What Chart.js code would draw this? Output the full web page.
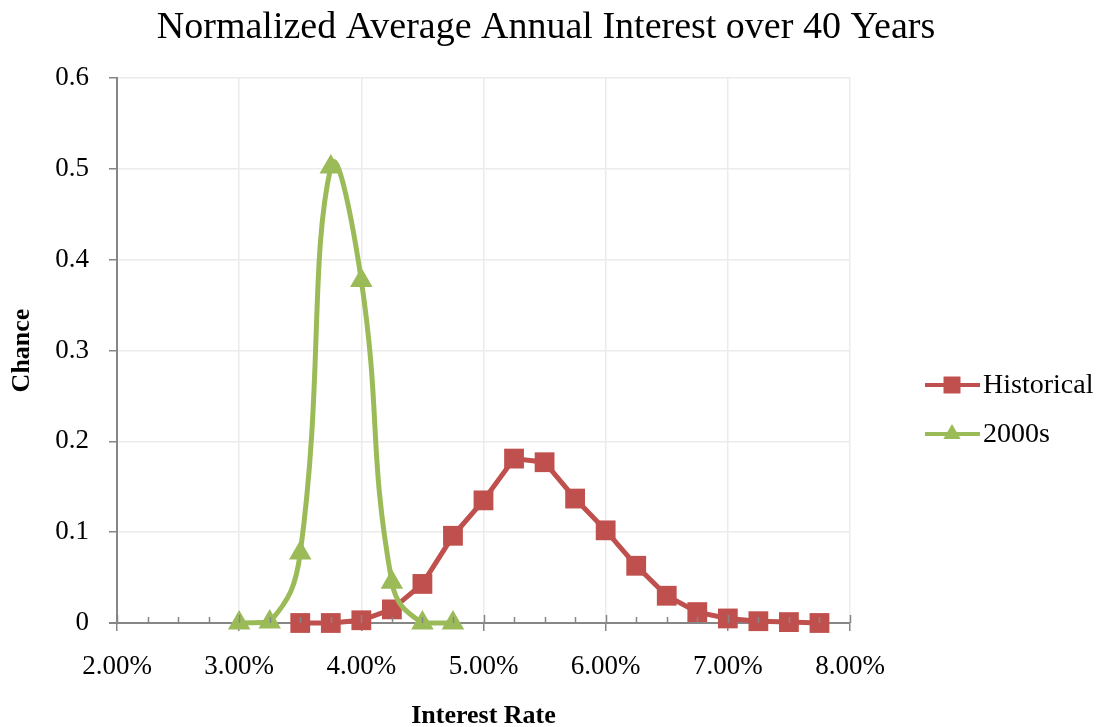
<!DOCTYPE html>
<html>
<head>
<meta charset="utf-8">
<script src="https://cdn.jsdelivr.net/npm/chart.js@4.4.0/dist/chart.umd.min.js"></script>
<style>
  html, body { margin: 0; padding: 0; background: #fff; }
  #wrap { width: 1096px; height: 727px; position: relative; }
</style>
</head>
<body>
<div id="wrap"><canvas id="interestChart"></canvas></div>
<script>
// Datos (tasa en %, probabilidad)
const historicalRates = [3.5, 3.75, 4.0, 4.25, 4.5, 4.75, 5.0, 5.25, 5.5, 5.75, 6.0, 6.25, 6.5, 6.75, 7.0, 7.25, 7.5, 7.75];
const historicalChance = [0, 0, 0.003, 0.015, 0.043, 0.096, 0.135, 0.181, 0.177, 0.137, 0.102, 0.063, 0.030, 0.012, 0.005, 0.002, 0.001, 0];

const recentRates = [3.0, 3.25, 3.5, 3.75, 4.0, 4.25, 4.5, 4.75];
const recentChance = [0, 0.001, 0.077, 0.502, 0.377, 0.045, 0, 0];

const seriesLabels = ['Historical', '2000s'];
const chartTitle = 'Normalized Average Annual Interest over 40 Years';
const rateMin = 2, rateMax = 8, rateStep = 1, rateMinorStep = 0.25;
const chanceMin = 0, chanceMax = 0.6, chanceStep = 0.1;

const RED = '#C0504D';
const GREEN = '#9BBB59';
const AXIS = '#868686';
const GRID = '#ebebeb';
const SERIF = "'Liberation Serif', 'DejaVu Serif', serif";

const toPoints = (xs, ys) => xs.map((x, i) => ({ x: x, y: ys[i] }));

// Título centrado en todo el lienzo (no sólo en el área del gráfico)
const canvasTitlePlugin = {
    id: 'canvasTitle',
    afterDraw(chart) {
        const ctx = chart.ctx;
        ctx.save();
        ctx.fillStyle = '#000';
        ctx.font = "38px " + SERIF;
        ctx.textAlign = 'center';
        ctx.textBaseline = 'middle';
        ctx.fillText(chartTitle, 546, 28);
        ctx.restore();
    }
};

// Marcas menores del eje X (hacia dentro) y marcas mayores cruzando el eje
const minorTicksPlugin = {
    id: 'minorTicks',
    afterDraw(chart) {
        const xs = chart.scales.x;
        const y0 = chart.scales.y.getPixelForValue(0);
        const ctx = chart.ctx;
        ctx.save();
        ctx.strokeStyle = AXIS;
        ctx.lineWidth = 1.5;
        for (let v = rateMin; v <= rateMax + 1e-9; v += rateMinorStep) {
            const px = Math.round(xs.getPixelForValue(v)) + 0.5;
            const major = Math.abs(v - Math.round(v)) < 1e-9;
            ctx.beginPath();
            ctx.moveTo(px, y0 - (major ? 8 : 6));
            ctx.lineTo(px, y0);
            ctx.stroke();
        }
        ctx.restore();
    }
};

// Leyenda a la derecha con línea + marcador
const sideLegendPlugin = {
    id: 'sideLegend',
    afterDraw(chart) {
        const ctx = chart.ctx;
        const items = [
            { label: seriesLabels[0], color: RED, style: 'rect', radius: 12, y: 385 },
            { label: seriesLabels[1], color: GREEN, style: 'triangle', radius: 10, y: 434 }
        ];
        ctx.save();
        items.forEach(it => {
            ctx.strokeStyle = it.color;
            ctx.lineWidth = 4;
            ctx.beginPath();
            ctx.moveTo(925, it.y);
            ctx.lineTo(980, it.y);
            ctx.stroke();
            ctx.fillStyle = it.color;
            Chart.helpers.drawPoint(ctx, { pointStyle: it.style, radius: it.radius, borderWidth: 0 }, 952, it.y);
            ctx.fillStyle = '#000';
            ctx.font = "28px " + SERIF;
            ctx.textBaseline = 'middle';
            ctx.textAlign = 'left';
            ctx.fillText(it.label, 983, it.y + 1);
        });
        ctx.restore();
    }
};

const ctx = document.getElementById('interestChart').getContext('2d');

new Chart(ctx, {
    type: 'line',
    data: {
        datasets: [
            {
                label: seriesLabels[0],
                data: toPoints(historicalRates, historicalChance),
                borderColor: RED,
                backgroundColor: RED,
                borderWidth: 5,
                pointStyle: 'rect',
                pointRadius: 14,
                pointHoverRadius: 14,
                pointBorderWidth: 0,
                tension: 0,
                clip: false,
                order: 2
            },
            {
                label: seriesLabels[1],
                data: toPoints(recentRates, recentChance),
                borderColor: GREEN,
                backgroundColor: GREEN,
                borderWidth: 5,
                pointStyle: 'triangle',
                pointRadius: 13,
                pointHoverRadius: 13,
                pointBorderWidth: 0,
                tension: 0.45,
                clip: false,
                order: 1
            }
        ]
    },
    options: {
        responsive: true,
        maintainAspectRatio: false,
        animation: false,
        layout: { padding: { left: 0, right: 246, top: 78, bottom: 0 } },
        plugins: {
            legend: { display: false },
            tooltip: { enabled: false },
            title: { display: false }
        },
        scales: {
            x: {
                type: 'linear',
                min: rateMin,
                max: rateMax,
                afterFit: (scale) => { scale.height = 104; },
                ticks: {
                    stepSize: rateStep,
                    color: '#000',
                    font: { family: SERIF, size: 27 },
                    padding: 20,
                    maxRotation: 0,
                    callback: (v) => Number(v).toFixed(2) + '%'
                },
                grid: {
                    color: (c) => (c.tick && c.tick.value === rateMin) ? 'transparent' : GRID,
                    lineWidth: 1.5,
                    tickLength: 8,
                    tickColor: AXIS
                },
                border: { display: false },
                title: {
                    display: true,
                    text: 'Interest Rate',
                    color: '#000',
                    font: { family: SERIF, size: 26, weight: 'bold', lineHeight: 0.8 },
                    padding: { top: 0, bottom: 0 }
                }
            },
            y: {
                min: chanceMin,
                max: chanceMax,
                afterFit: (scale) => { scale.width = 117; },
                ticks: {
                    stepSize: chanceStep,
                    color: '#000',
                    font: { family: SERIF, size: 27 },
                    padding: 20,
                    callback: (v) => Math.round(v * 10) / 10
                },
                grid: {
                    color: (c) => (c.tick && c.tick.value === chanceMin) ? AXIS : GRID,
                    lineWidth: (c) => (c.tick && c.tick.value === chanceMin) ? 2 : 1.5,
                    tickLength: 8,
                    tickColor: AXIS
                },
                border: { display: true, color: AXIS, width: 2 },
                title: {
                    display: true,
                    text: 'Chance',
                    color: '#000',
                    font: { family: SERIF, size: 26, weight: 'bold', lineHeight: 1 },
                    padding: { top: 9, bottom: 0 }
                }
            }
        }
    },
    plugins: [canvasTitlePlugin, minorTicksPlugin, sideLegendPlugin]
});
</script>
</body>
</html>
